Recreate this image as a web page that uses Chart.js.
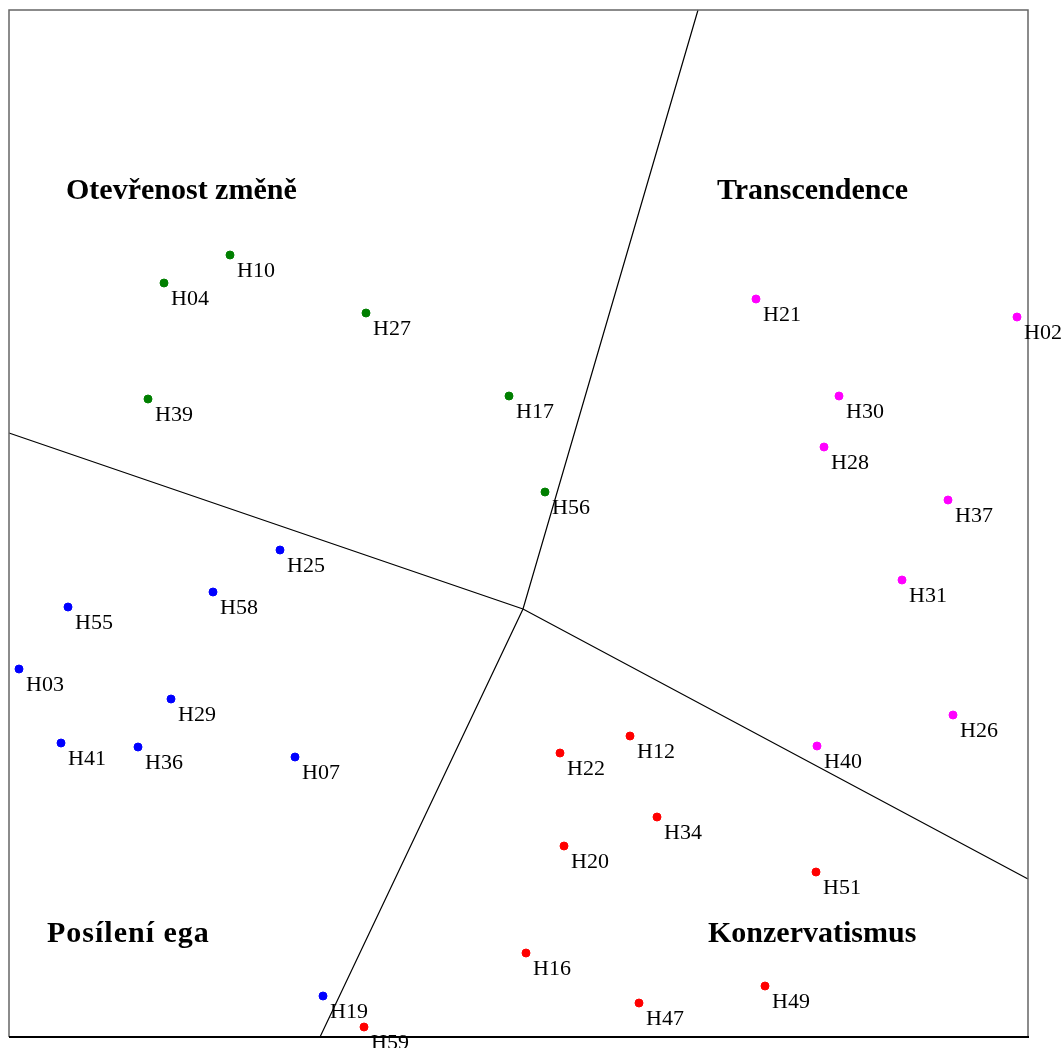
<!DOCTYPE html>
<html>
<head>
<meta charset="utf-8">
<script src="https://cdn.jsdelivr.net/npm/chart.js@4.4.1/dist/chart.umd.min.js"></script>
<style>
  html, body { margin: 0; padding: 0; background: #fff; }
  #wrap { width: 1061px; height: 1048px; }
</style>
</head>
<body>
<div id="wrap"><canvas id="mapa"></canvas></div>
<script>
// body (plot units, y grows downward)
const zmenaNames = ["H10", "H04", "H27", "H39", "H17", "H56"];
const zmenaX = [230, 164, 366, 148, 509, 545];
const zmenaY = [255, 283, 313, 399, 396, 492];

const transNames = ["H21", "H02", "H30", "H28", "H37", "H31", "H26", "H40"];
const transX = [756, 1017, 839, 824, 948, 902, 953, 817];
const transY = [299, 317, 396, 447, 500, 580, 715, 746];

const egoNames = ["H25", "H58", "H55", "H03", "H29", "H41", "H36", "H07", "H19"];
const egoX = [280, 213, 68, 19, 171, 61, 138, 295, 323];
const egoY = [550, 592, 607, 669, 699, 743, 747, 757, 996];

const konzNames = ["H12", "H22", "H34", "H20", "H51", "H16", "H49", "H47", "H59"];
const konzX = [630, 560, 657, 564, 816, 526, 765, 639, 364];
const konzY = [736, 753, 817, 846, 872, 953, 986, 1003, 1027];

// dělicí čáry
const caraAX = [9, 523, 1028];
const caraAY = [433, 609, 879];
const caraBX = [698, 523, 320];
const caraBY = [10, 609, 1037];

// nadpisy kvadrantu
const nadpisy = ["Otevřenost změně", "Transcendence", "Posílení ega", "Konzervatismus"];
const nadpisX = [66, 717, 47, 708];
const nadpisY = [199, 199, 942, 942];

function body(xs, ys) {
    return xs.map((x, i) => ({ x: x, y: ys[i] }));
}

function skupina(jmena, xs, ys, barva) {
    return {
        type: "scatter",
        data: body(xs, ys),
        jmena: jmena,
        backgroundColor: barva,
        borderColor: barva,
        pointRadius: 4,
        pointHoverRadius: 4,
        clip: false
    };
}

function cara(xs, ys) {
    return {
        type: "line",
        data: body(xs, ys),
        borderColor: "#000",
        borderWidth: 1.2,
        pointRadius: 0,
        fill: false,
        tension: 0,
        clip: false
    };
}

// popisky bodu + nadpisy + ramecek
const popisky = {
    id: "popisky",
    afterDatasetsDraw(chart) {
        const ctx = chart.ctx;
        const a = chart.chartArea;
        ctx.save();

        // ramecek
        ctx.strokeStyle = "#666";
        ctx.lineWidth = 1.5;
        ctx.beginPath();
        ctx.moveTo(a.left, a.bottom);
        ctx.lineTo(a.left, a.top);
        ctx.lineTo(a.right, a.top);
        ctx.lineTo(a.right, a.bottom);
        ctx.stroke();
        ctx.strokeStyle = "#000";
        ctx.lineWidth = 2;
        ctx.beginPath();
        ctx.moveTo(a.left, a.bottom);
        ctx.lineTo(a.right + 1, a.bottom);
        ctx.stroke();

        ctx.fillStyle = "#000";
        ctx.textBaseline = "alphabetic";
        ctx.textAlign = "left";
        ctx.font = "22px 'Liberation Serif', serif";
        chart.data.datasets.forEach((ds, i) => {
            if (!ds.jmena) return;
            const meta = chart.getDatasetMeta(i);
            meta.data.forEach((p, j) => {
                ctx.fillText(ds.jmena[j], p.x + 7, p.y + 22);
            });
        });

        const sx = chart.scales.x, sy = chart.scales.y;
        ctx.font = "bold 30px 'Liberation Serif', serif";
        nadpisy.forEach((t, i) => {
            // "Posílení ega" je v originale trochu sirsi
            ctx.letterSpacing = (i === 2) ? "1px" : "0px";
            ctx.fillText(t, sx.getPixelForValue(nadpisX[i]), sy.getPixelForValue(nadpisY[i]));
        });
        ctx.letterSpacing = "0px";
        ctx.restore();
    }
};

new Chart(document.getElementById("mapa"), {
    data: {
        datasets: [
            cara(caraAX, caraAY),
            cara(caraBX, caraBY),
            skupina(zmenaNames, zmenaX, zmenaY, "#007f00"),
            skupina(transNames, transX, transY, "#ff00ff"),
            skupina(egoNames, egoX, egoY, "#0000ff"),
            skupina(konzNames, konzX, konzY, "#ff0000")
        ]
    },
    options: {
        responsive: true,
        maintainAspectRatio: false,
        animation: false,
        layout: { padding: { left: 9, top: 10, right: 33, bottom: 11 } },
        plugins: { legend: { display: false }, tooltip: { enabled: false } },
        scales: {
            x: { type: "linear", min: 9, max: 1028, display: false },
            y: { type: "linear", min: 10, max: 1037, reverse: true, display: false }
        }
    },
    plugins: [popisky]
});
</script>
</body>
</html>
